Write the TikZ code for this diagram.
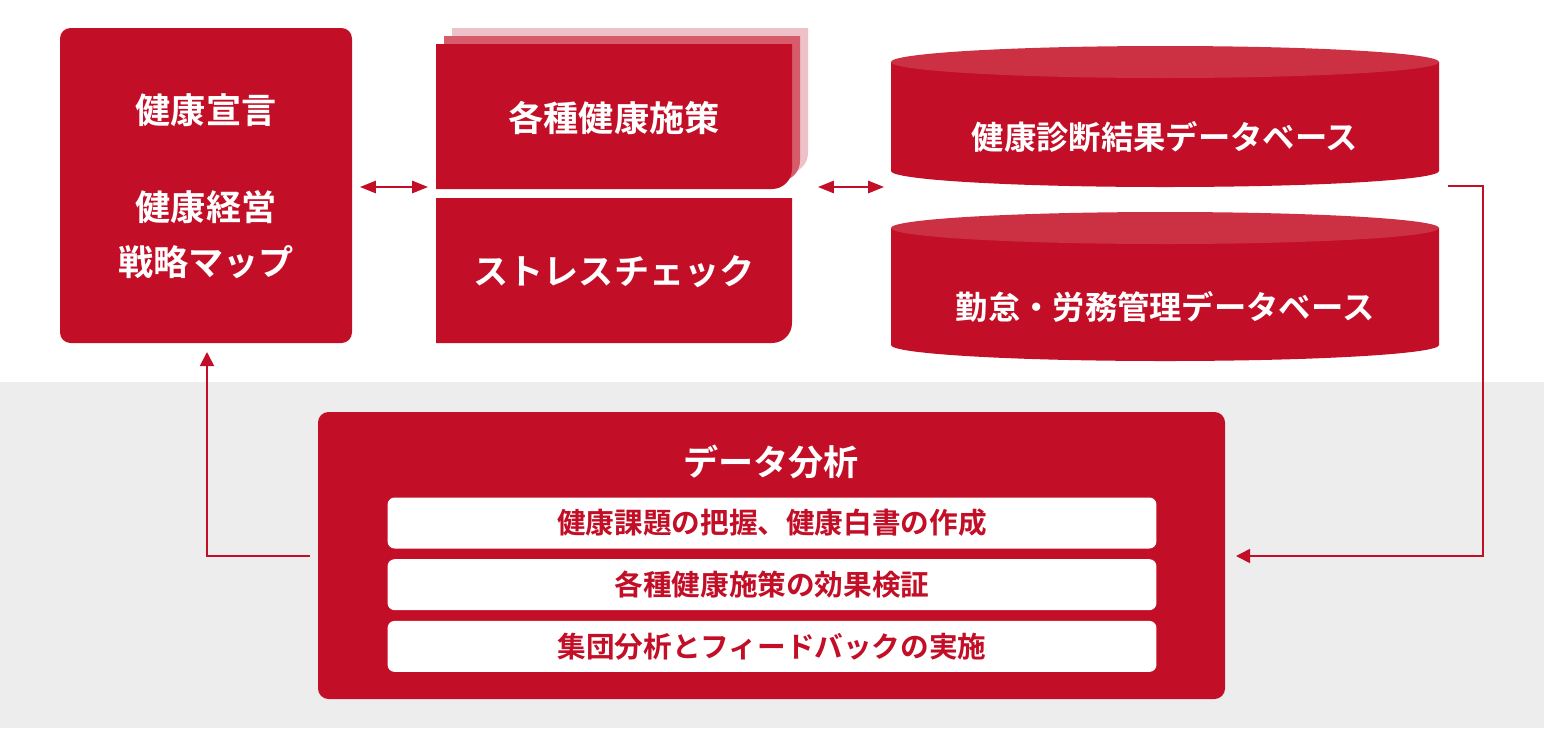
\documentclass[tikz,border=0pt]{standalone}
\usepackage{fontspec}
\setmainfont{Noto Sans CJK JP}[BoldFont={* Bold}]
\usetikzlibrary{positioning,arrows.meta}
\definecolor{brand}{HTML}{C20E26}
\definecolor{brandlight}{HTML}{CC3143}
\definecolor{shadeA}{HTML}{D65B6B}
\definecolor{shadeB}{HTML}{EEC1C8}
\definecolor{floor}{HTML}{EDEDED}
\tikzset{
  redbox/.style={fill=brand, rounded corners=6pt},
  whitetext/.style={text=white, font=\bfseries\fontsize{20}{24}\selectfont},
  dbtext/.style={text=white, font=\bfseries\fontsize{18.4}{22}\selectfont},
  itembox/.style={fill=white, rounded corners=4pt, minimum width=15.38cm, minimum height=1.02cm, text=brand, font=\bfseries\fontsize{16.3}{19}\selectfont},
  link/.style={draw=brand, line width=1pt},
  tip/.style={-{Triangle[width=8pt,length=8pt]}}
}
\begin{document}
\begin{tikzpicture}[x=0.02cm,y=-0.02cm]
  \useasboundingbox (0,0) rectangle (1544,728);
  \fill[floor] (0,382) rectangle (1544,728);

  % policy box
  \fill[redbox] (60,28) rectangle (352,343);
  \node[whitetext] (sengen) at (206,110) {健康宣言};
  \node[whitetext] (keiei) at (206,207) {健康経営};
  \node[whitetext] (map) at (206,262) {戦略マップ};

  % measures, stacked
  \fill[shadeB] (452,28) -- (808,28) -- (808,153) arc[start angle=0,end angle=90,radius=20] -- (452,173) -- cycle;
  \fill[shadeA] (444,36) -- (800,36) -- (800,161) arc[start angle=0,end angle=90,radius=20] -- (444,181) -- cycle;
  \fill[brand] (436,44) -- (792,44) -- (792,169) arc[start angle=0,end angle=90,radius=20] -- (436,189) -- cycle;
  \node[whitetext] (shisaku) at (614,118) {各種健康施策};
  \fill[brand] (436,198) -- (792,198) -- (792,323) arc[start angle=0,end angle=90,radius=20] -- (436,343) -- cycle;
  \node[whitetext] (stress) at (614,272) {ストレスチェック};

  % databases
  \foreach \top/\body/\name/\label in {62/109/kenshin/健康診断結果データベース, 228/117/kintai/勤怠・労務管理データベース}{
    \fill[brand] (891,\top) -- (891,\top+\body) arc[start angle=180,end angle=0,x radius=274,y radius=16] -- (1439,\top) -- cycle;
    \fill[brandlight] (1165,\top) ellipse[x radius=274,y radius=16];
    \node[dbtext] (\name) at (1165,\top+\body*0.5+20) {\label};
  }

  % analysis
  \fill[redbox] (318,412) rectangle (1225,699);
  \node[whitetext] (bunseki) at (771,462) {データ分析};
  \node[itembox] (kadai) at (772,523) {健康課題の把握、健康白書の作成};
  \node[itembox, below=0.2cm of kadai] (kouka) {各種健康施策の効果検証};
  \node[itembox, below=0.2cm of kouka] (fb) {集団分析とフィードバックの実施};

  % connectors
  \coordinate (a1) at (360,187); \coordinate (a2) at (428,187);
  \draw[link, {Triangle[width=7pt,length=9pt]}-{Triangle[width=7pt,length=9pt]}] (a1) -- (a2);
  \coordinate (b1) at (818,187); \coordinate (b2) at (884,187);
  \draw[link, {Triangle[width=7pt,length=9pt]}-{Triangle[width=7pt,length=9pt]}] (b1) -- (b2);
  \coordinate (dbout) at (1448,186); \coordinate (ain) at (1236,556);
  \draw[link, tip] (dbout) -- (1483,186) |- (ain);
  \coordinate (aout) at (310,556); \coordinate (pin) at (207,352);
  \draw[link, tip] (aout) -| (pin);
\end{tikzpicture}
\end{document}
